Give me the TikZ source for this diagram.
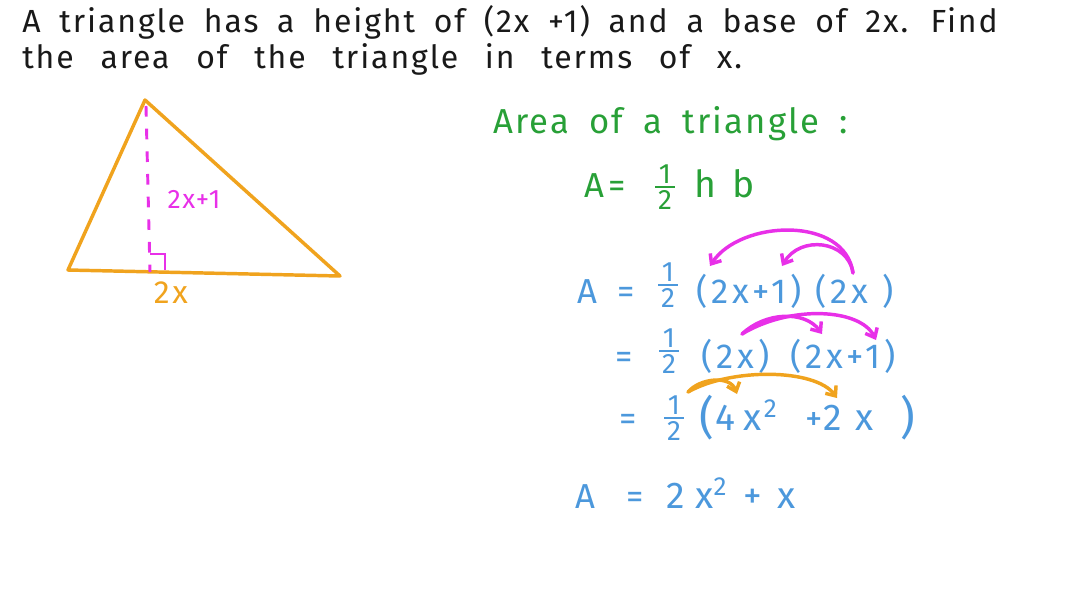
\documentclass[tikz,border=0pt]{standalone}
\usepackage{amsmath}
\usepackage{fontspec}
\setmainfont{Fira Sans}
\newfontfamily\handfont[LetterSpace=6,WordSpace=1.8]{Fira Sans}
\newfontfamily\sumfont[LetterSpace=12]{Fira Sans}
\usepackage{tikz}
\usetikzlibrary{arrows.meta,positioning}

\definecolor{penblue}{RGB}{76,152,220}
\definecolor{pengreen}{RGB}{40,160,55}
\definecolor{penorange}{RGB}{240,163,30}
\definecolor{penpink}{RGB}{232,48,232}
\definecolor{penink}{RGB}{25,25,25}

\tikzset{
  txt/.style={inner sep=0pt,anchor=base west},
  ask/.style={txt,text=penink,font=\handfont\fontsize{24}{28}\selectfont},
  bluetxt/.style={txt,text=penblue,font=\sumfont\fontsize{26}{30}\selectfont},
  halfnode/.style={inner sep=0pt,anchor=center,font=\sumfont},
  tri/.style={draw=penorange,line width=2.6pt,line join=round,line cap=round},
  pinkarc/.style={draw=penpink,line width=2.6pt,line cap=round,-{Straight Barb[length=6pt,width=10pt]}},
  orangearc/.style={draw=penorange,line width=2.6pt,line cap=round,-{Straight Barb[length=6pt,width=10pt]}}
}
\newcommand{\hf}[1][21]{$\genfrac{}{}{1.6pt}{1}{\hbox{\fontsize{#1}{#1}\selectfont\kern2pt 1\kern2pt}}{\hbox{\fontsize{#1}{#1}\selectfont\kern2pt 2\kern2pt}}$}

\begin{document}
\begin{tikzpicture}[x=0.75pt,y=0.75pt,yscale=-1,xscale=1]
\useasboundingbox (0,0) rectangle (1088,612);

% Text Node
\node[ask] (q1) at (22,32) {A triangle has a height of (2x +1) and a base of 2x. Find};
% Text Node
\node[ask] (q2) at (22,68) {\spaceskip=20pt\relax the area of the triangle in terms of x.};

%Shape: Triangle
\coordinate (top) at (145,100);
\coordinate (left) at (68,270);
\coordinate (right) at (340,276);
\coordinate (foot) at (150,272);
\draw[tri] (top) -- (right) -- (left) -- cycle;
% height
\draw[penpink,line width=2.2pt,dash pattern=on 8pt off 9pt] (top) ++(1,6) -- (foot);
\draw[penpink,line width=2.2pt] (150,254) -- (165,254) -- (165,270);
% Text Node
\node[text=penpink,font=\handfont\fontsize{20}{24}\selectfont,inner sep=0pt] (hlab) at (194,199) {2x+1};
% Text Node
\node[text=penorange,font=\sumfont\fontsize{24}{28}\selectfont,inner sep=0pt] (blab) at (171,293) {2\kern2pt x};

% Text Node
\node[txt,text=pengreen,font=\handfont\fontsize{26}{30}\selectfont] (rule) at (493,133) {Area of a triangle :};
% Text Node
\node[bluetxt,text=pengreen] (fa) at (584,197) {A=};
\node[halfnode,text=pengreen] (ff) at (665,187) {\hf[21]};
\node[bluetxt,text=pengreen,font=\sumfont\fontsize{28}{32}\selectfont] (fhb) at (694,197) {h\hspace{12pt}b};

% Text Node
\node[bluetxt] (a1) at (577,303) {A};
\node[bluetxt] (e1) at (617,303) {=};
\node[halfnode,text=penblue] (f1) at (668,285) {\hf};
\node[bluetxt] (g1a) at (696,303) {(2x+1)};
\node[bluetxt] (g1b) at (815,303) {(2x )};
% Text Node
\node[bluetxt] (e2) at (615,368) {=};
\node[halfnode,text=penblue] (f2) at (669,351) {\hf};
\node[bluetxt] (g2a) at (701,368) {(2x)};
\node[bluetxt] (g2b) at (790,368) {(2x+1)};
% Text Node
\node[bluetxt] (e3) at (619,430) {=};
\node[halfnode,text=penblue] (f3) at (674,418) {\hf};
\node[inner sep=0pt,text=penblue,font=\sumfont\fontsize{34}{38}\selectfont] (lp3) at (707,418) {(};
\node[bluetxt,font=\sumfont\fontsize{28}{32}\selectfont] (g3a) at (715,430) {4\kern6pt x\kern2pt\textsuperscript{2}};
\node[bluetxt] (g3b) at (805,430) {+};
\node[bluetxt,font=\sumfont\fontsize{28}{32}\selectfont] (g3c) at (823,430) {2\kern10pt x};
\node[inner sep=0pt,text=penblue,font=\sumfont\fontsize{34}{38}\selectfont] (rp3) at (908,418) {)};
% Text Node
\node[bluetxt] (a4) at (575,508) {A};
\node[bluetxt] (e4) at (626,508) {=};
\node[bluetxt,font=\sumfont\fontsize{28}{32}\selectfont] (g4) at (666,508) {2\kern8pt x\textsuperscript{2}\hspace{12pt}+\hspace{12pt}x};

% arrows
\coordinate (s1) at (853,273);
\coordinate (p1a) at (710,266);
\coordinate (p1b) at (782,266);
\draw[pinkarc] (s1) .. controls (845,215) and (740,220) .. (p1a);
\draw[pinkarc] (s1) .. controls (848,240) and (800,235) .. (p1b);
\coordinate (s2) at (742,334);
\coordinate (p2a) at (822,334);
\coordinate (p2b) at (876,340);
\draw[pinkarc] (s2) .. controls (765,312) and (805,310) .. (p2a);
\draw[pinkarc] (s2) .. controls (790,305) and (860,308) .. (p2b);
\coordinate (s3) at (688,392);
\coordinate (o3a) at (737,394);
\coordinate (o3b) at (837,398);
\draw[orangearc] (s3) .. controls (700,378) and (730,375) .. (o3a);
\draw[orangearc] (s3) .. controls (730,368) and (815,368) .. (o3b);

\end{tikzpicture}
\end{document}
